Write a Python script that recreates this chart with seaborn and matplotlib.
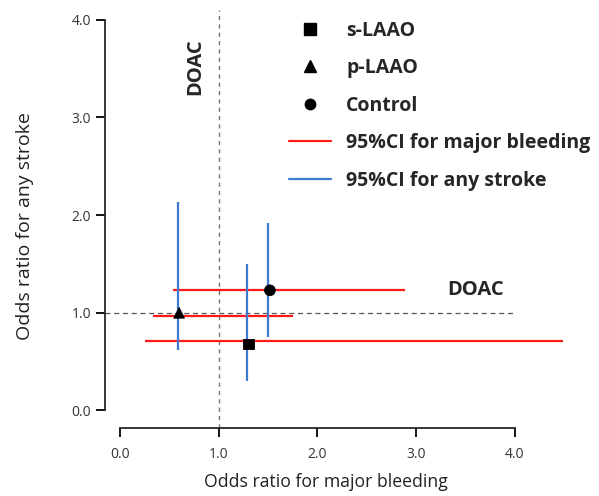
import matplotlib
matplotlib.use("Agg")
import matplotlib.pyplot as plt
import seaborn as sns
import pandas as pd
from matplotlib.lines import Line2D

# data
groups = ["s-LAAO", "p-LAAO", "Control"]
bleed_or = [1.30, 0.60, 1.52]
stroke_or = [0.68, 1.00, 1.23]
bleed_lo = [0.25, 0.34, 0.54]
bleed_hi = [4.49, 1.75, 2.89]
bleed_line_y = [0.71, 0.97, 1.23]
stroke_lo = [0.30, 0.62, 0.75]
stroke_hi = [1.50, 2.13, 1.92]
stroke_line_x = [1.29, 0.59, 1.50]
ticks = [0.0, 1.0, 2.0, 3.0, 4.0]
tick_labels = ["0.0", "1.0", "2.0", "3.0", "4.0"]

df = pd.DataFrame({"group": groups, "bleed": bleed_or, "stroke": stroke_or})

sns.set_style("ticks")
plt.rcParams['font.family'] = ['Open Sans', 'DejaVu Sans']

fig = plt.figure(figsize=(5.99, 4.96), dpi=100)
ax = fig.add_axes([0.1753, 0.137, 0.783, 0.843])

red = "#ff1a1a"
blue = "#3d7bd1"

# reference lines
ax.axvline(1.0, ymin=0, ymax=1, color="#777777", ls=(0, (3, 3)), lw=1.0, zorder=1)
ax.hlines(1.0, -0.15, 4.0, color="#555555", ls=(0, (4, 3)), lw=0.9, zorder=1)

# confidence intervals
ax.hlines(bleed_line_y, bleed_lo, bleed_hi, color=red, lw=1.6, zorder=2)
ax.vlines(stroke_line_x, stroke_lo, stroke_hi, color=blue, lw=1.6, zorder=3)

sns.scatterplot(data=df, x="bleed", y="stroke", style="group",
                markers={"s-LAAO": "s", "p-LAAO": "^", "Control": "o"},
                color="black", s=60, edgecolor="black", legend=False,
                zorder=4, ax=ax)

ax.text(0.76, 3.52, "DOAC", rotation=90, ha="center", va="center",
        fontsize=14.5, fontweight="bold")
ax.text(3.6, 1.23, "DOAC", ha="center", va="center",
        fontsize=14.5, fontweight="bold")

ax.set_xlim(-0.15, 4.6)
ax.set_ylim(-0.18, 4.1)
ax.set_xticks(ticks)
ax.set_xticklabels(tick_labels)
ax.set_yticks(ticks)
ax.set_yticklabels(tick_labels)
ax.tick_params(direction="out", length=6.5, width=1.3, labelsize=10,
               labelcolor="#333333", color="black")
ax.tick_params(axis="x", pad=7)
for side in ["top", "right"]:
    ax.spines[side].set_visible(False)
ax.spines["left"].set_bounds(0, 4)
ax.spines["bottom"].set_bounds(0, 4)
ax.spines["left"].set_linewidth(1.3)
ax.spines["bottom"].set_linewidth(1.3)

ax.set_xlabel("Odds ratio for major bleeding", fontsize=12.7, color="#222222", va="center")
ax.xaxis.set_label_coords(0.47, -0.13)
ax.set_ylabel("Odds ratio for any stroke", fontsize=14, color="#222222", va="center")
ax.yaxis.set_label_coords(-0.17, 0.483)

handles = [
    Line2D([], [], marker="s", ls="", color="black", markersize=8),
    Line2D([], [], marker="^", ls="", color="black", markersize=8),
    Line2D([], [], marker="o", ls="", color="black", markersize=7.5),
    Line2D([], [], color=red, lw=1.6),
    Line2D([], [], color=blue, lw=1.6),
]
labels = ["s-LAAO", "p-LAAO", "Control", "95%CI for major bleeding", "95%CI for any stroke"]
ax.legend(handles, labels, loc="upper left", bbox_to_anchor=(0.392, 0.974),
          frameon=False, borderpad=0, borderaxespad=0, handlelength=2.15,
          handletextpad=0.8, labelspacing=0.9,
          prop={"size": 14, "weight": "bold"})

fig.savefig("out.png", dpi=100)
